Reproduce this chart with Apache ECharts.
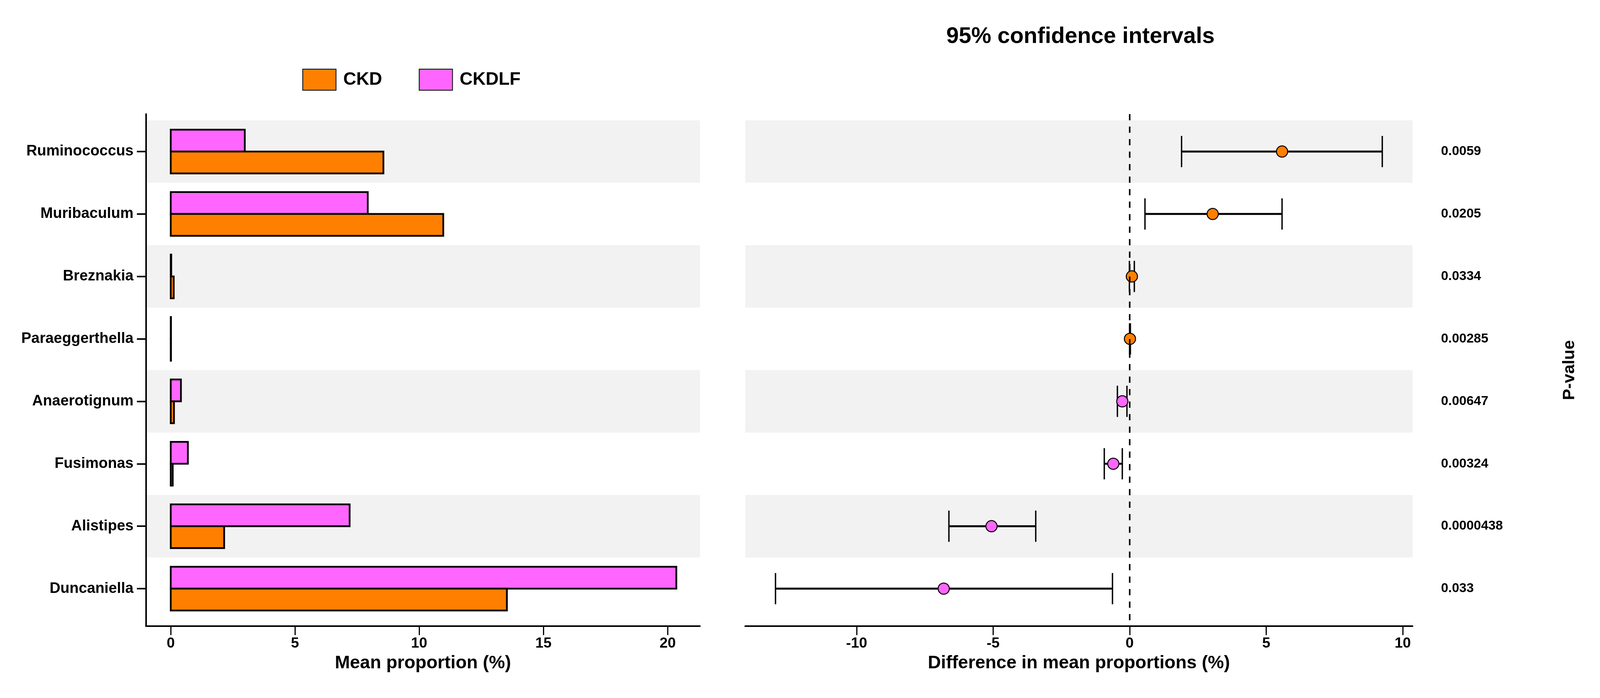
<!DOCTYPE html>
<html lang="en">
<head>
    <meta charset="UTF-8">
    <title>Mean proportions and 95% confidence intervals</title>
    <script src="https://cdn.jsdelivr.net/npm/echarts/dist/echarts.min.js"></script>
    <style>
        html, body { margin: 0; padding: 0; background: #fff; overflow: hidden; }
        #chart { width: 100vw; height: 100vh; }
    </style>
</head>
<body>
    <div id="chart"></div>

    <script>
        // genera, top to bottom
        const genera = ['Ruminococcus', 'Muribaculum', 'Breznakia', 'Paraeggerthella',
                        'Anaerotignum', 'Fusimonas', 'Alistipes', 'Duncaniella'];

        // mean proportion (%) per group
        const ckdMean   = [8.56, 10.97, 0.12, 0.01, 0.13, 0.08, 2.15, 13.53];
        const ckdlfMean = [2.98, 7.93, 0.02, 0.01, 0.41, 0.69, 7.20, 20.35];

        // difference in mean proportions (%) with 95% CI
        const diffMean = [5.58, 3.04, 0.08, 0.01, -0.27, -0.60, -5.06, -6.81];
        const ciLow    = [1.90, 0.56, -0.01, -0.005, -0.45, -0.93, -6.62, -12.97];
        const ciHigh   = [9.25, 5.58, 0.17, 0.025, -0.10, -0.27, -3.44, -0.63];

        const pValues = ['0.0059', '0.0205', '0.0334', '0.00285', '0.00647', '0.00324', '0.0000438', '0.033'];

        const barTicks  = [0, 5, 10, 15, 20];
        const diffTicks = [-10, -5, 0, 5, 10];

        const ORANGE = '#FF8000';
        const PINK = '#FF66FF';
        const BAND = '#F2F2F2';
        const FONT = 'Liberation Sans';

        // layout was measured on a 4277 x 1787 canvas; scale to the real viewport
        const el = document.getElementById('chart');
        const SX = el.clientWidth / 4277;
        const SY = el.clientHeight / 1787;
        const px = v => v * SX;
        const py = v => v * SY;
        const fs = v => Math.round(v * Math.min(SX, SY) * 10) / 10;

        const rows = genera.map((g, i) => i + 1);
        const bandRows = rows.filter(r => r % 2 === 1).map(r => [r]);

        const chart = echarts.init(el);

        function renderBand(params, api) {
            const y = api.value(0);
            const top = api.coord([0, y - 0.5])[1];
            const bottom = api.coord([0, y + 0.5])[1];
            return {
                type: 'rect',
                shape: { x: params.coordSys.x, y: Math.min(top, bottom),
                         width: params.coordSys.width, height: Math.abs(bottom - top) },
                style: { fill: BAND }
            };
        }

        // half bar: offset -1 = above the row centre, 0 = below
        function barRenderer(offset, color) {
            return function (params, api) {
                const v = api.value(0);
                const y = api.value(1);
                const p0 = api.coord([0, y + offset * 0.35]);
                const p1 = api.coord([v, y + (offset + 1) * 0.35]);
                return {
                    type: 'rect',
                    shape: { x: Math.min(p0[0], p1[0]), y: Math.min(p0[1], p1[1]),
                             width: Math.abs(p1[0] - p0[0]), height: Math.abs(p1[1] - p0[1]) },
                    style: { fill: color, stroke: '#000', lineWidth: 4.5 }
                };
            };
        }

        function renderErrorBar(params, api) {
            const lo = api.value(0);
            const hi = api.value(1);
            const y = api.value(2);
            const a = api.coord([lo, y]);
            const b = api.coord([hi, y]);
            const capTop = api.coord([lo, y - 0.25])[1];
            const capBottom = api.coord([lo, y + 0.25])[1];
            return {
                type: 'group',
                children: [
                    { type: 'line', shape: { x1: a[0], y1: a[1], x2: b[0], y2: b[1] },
                      style: { stroke: '#000', lineWidth: 5 } },
                    { type: 'line', shape: { x1: a[0], y1: capTop, x2: a[0], y2: capBottom },
                      style: { stroke: '#000', lineWidth: 3.5 } },
                    { type: 'line', shape: { x1: b[0], y1: capTop, x2: b[0], y2: capBottom },
                      style: { stroke: '#000', lineWidth: 3.5 } }
                ]
            };
        }

        const xAxisBase = {
            type: 'value',
            splitLine: { show: false },
            axisLine: { show: true, onZero: false, lineStyle: { color: '#000', width: 4 } },
            axisTick: { show: true, length: py(23), lineStyle: { color: '#000', width: 3 } },
            axisLabel: { fontSize: fs(39), fontWeight: 'bold', color: '#000', margin: py(26), fontFamily: FONT },
            nameLocation: 'middle',
            nameGap: py(72),
            nameTextStyle: { fontSize: fs(48.5), fontWeight: 'bold', color: '#000', fontFamily: FONT }
        };

        const option = {
            animation: false,
            backgroundColor: '#fff',
            textStyle: { fontFamily: FONT },
            title: {
                text: '95% confidence intervals',
                left: px(2883),
                top: py(60),
                textAlign: 'center',
                textStyle: { fontSize: fs(60), fontWeight: 'bold', color: '#000', fontFamily: FONT }
            },
            legend: {
                left: px(803),
                top: py(171),
                icon: 'rect',
                itemWidth: px(89),
                itemHeight: py(54),
                itemGap: px(98),
                selectedMode: false,
                data: ['CKD', 'CKDLF'],
                formatter: name => '{t|' + name + '}',
                textStyle: {
                    color: '#000',
                    rich: { t: { fontSize: fs(48), fontWeight: 'bold', color: '#000',
                                 fontFamily: FONT, padding: [0, 0, 0, px(14)] } }
                }
            },
            grid: [
                { left: px(390), top: py(292), width: px(1481), height: py(1311), outerBoundsMode: 'none' },
                { left: px(1992), top: py(292), width: px(1784), height: py(1311), outerBoundsMode: 'none' }
            ],
            xAxis: [
                Object.assign({}, xAxisBase, {
                    gridIndex: 0, min: -1.0, max: 21.3,
                    name: 'Mean proportion (%)',
                    axisTick: Object.assign({}, xAxisBase.axisTick, { customValues: barTicks }),
                    axisLabel: Object.assign({}, xAxisBase.axisLabel, { customValues: barTicks })
                }),
                Object.assign({}, xAxisBase, {
                    gridIndex: 1, min: -14.08, max: 10.36,
                    name: 'Difference in mean proportions (%)',
                    axisTick: Object.assign({}, xAxisBase.axisTick, { customValues: diffTicks }),
                    axisLabel: Object.assign({}, xAxisBase.axisLabel, { customValues: diffTicks })
                })
            ],
            yAxis: [
                {
                    gridIndex: 0, type: 'value', inverse: true, min: 0.4, max: 8.6,
                    splitLine: { show: false },
                    axisLine: { show: true, onZero: false, lineStyle: { color: '#000', width: 4 } },
                    axisTick: { show: true, length: px(24), customValues: rows,
                                lineStyle: { color: '#000', width: 4 } },
                    axisLabel: { customValues: rows, formatter: v => genera[Math.round(v) - 1],
                                 fontSize: fs(40), fontWeight: 'bold', color: '#000', margin: px(33), fontFamily: FONT }
                },
                {
                    gridIndex: 1, type: 'value', inverse: true, min: 0.4, max: 8.6,
                    position: 'right',
                    splitLine: { show: false },
                    axisLine: { show: false },
                    axisTick: { show: false },
                    axisLabel: { customValues: rows, formatter: v => pValues[Math.round(v) - 1],
                                 fontSize: fs(35), fontWeight: 'bold', color: '#000', margin: px(76),
                                 align: 'left', fontFamily: FONT },
                    name: 'P-value',
                    nameLocation: 'middle',
                    nameRotate: 90,
                    nameGap: px(397),
                    nameMoveOverlap: false,
                    nameTextStyle: { fontSize: fs(45), fontWeight: 'bold', color: '#000', fontFamily: FONT }
                }
            ],
            series: [
                {
                    type: 'custom', xAxisIndex: 0, yAxisIndex: 0, silent: true, z: 0,
                    data: bandRows, renderItem: renderBand
                },
                {
                    type: 'custom', xAxisIndex: 1, yAxisIndex: 1, silent: true, z: 0,
                    data: bandRows, renderItem: renderBand
                },
                {
                    name: 'CKDLF', type: 'custom', xAxisIndex: 0, yAxisIndex: 0, z: 2,
                    itemStyle: { color: PINK, borderColor: '#000', borderWidth: 4.5 },
                    data: ckdlfMean.map((v, i) => [v, i + 1]),
                    renderItem: barRenderer(-1, PINK)
                },
                {
                    name: 'CKD', type: 'custom', xAxisIndex: 0, yAxisIndex: 0, z: 2,
                    itemStyle: { color: ORANGE, borderColor: '#000', borderWidth: 4.5 },
                    data: ckdMean.map((v, i) => [v, i + 1]),
                    renderItem: barRenderer(0, ORANGE)
                },
                {
                    type: 'custom', xAxisIndex: 1, yAxisIndex: 1, silent: true, z: 3,
                    data: rows.map((r, i) => [ciLow[i], ciHigh[i], r]),
                    renderItem: renderErrorBar
                },
                {
                    type: 'scatter', xAxisIndex: 1, yAxisIndex: 1, z: 4,
                    symbol: 'circle', symbolSize: fs(30),
                    itemStyle: { borderColor: '#000', borderWidth: 2.5, opacity: 1 },
                    data: diffMean.map((d, i) => ({
                        value: [d, i + 1],
                        itemStyle: { color: d > 0 ? ORANGE : PINK }
                    }))
                },
                {
                    type: 'line', xAxisIndex: 1, yAxisIndex: 1, z: 6, data: [],
                    markLine: {
                        silent: true,
                        symbol: ['none', 'none'],
                        label: { show: false },
                        lineStyle: { color: '#000', width: 4, type: [16, 16] },
                        data: [{ xAxis: 0 }]
                    }
                }
            ]
        };

        chart.setOption(option);
    </script>
</body>
</html>
